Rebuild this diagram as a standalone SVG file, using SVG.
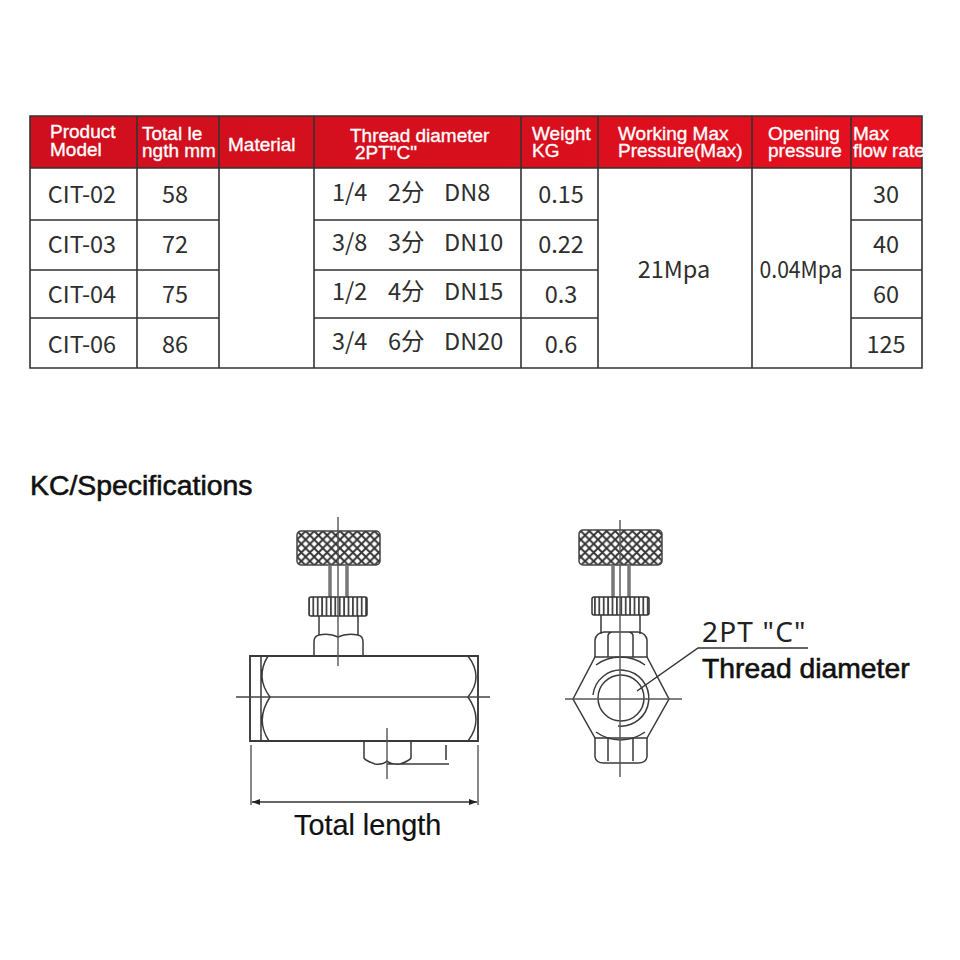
<svg xmlns="http://www.w3.org/2000/svg" width="960" height="960" viewBox="0 0 960 960">
<style>
.h{font-family:"Liberation Sans",Arial,sans-serif;font-size:19px;fill:#fff;stroke:#fff;stroke-width:.35}
.b{font-family:"Noto Sans CJK SC","Noto Sans",sans-serif;font-size:23.5px;fill:#2e2e2e}
.m{text-anchor:middle}
.g{stroke:#333;stroke-width:1.6;fill:none}
.d{stroke:#3a3a3a;stroke-width:1.5;fill:none}
.c{stroke:#555;stroke-width:1.4;fill:none}
.s{stroke:#777;stroke-width:3.5;fill:none}
.l{font-family:"Liberation Sans",Arial,sans-serif;fill:#111;stroke:#111;stroke-width:.6}
.kn{fill:url(#cross);stroke:#444;stroke-width:1.5}
.ku{fill:url(#knurl);stroke:#333;stroke-width:1.5}
</style>
<defs>
<linearGradient id="red" x1="0" y1="0" x2="1" y2="0"><stop offset="0" stop-color="#cf0f1e"/><stop offset=".55" stop-color="#d80f1d"/><stop offset="1" stop-color="#e8101f"/></linearGradient>
<pattern id="cross" width="8.6" height="8.6" patternUnits="userSpaceOnUse" x="297" y="531">
<rect width="8.6" height="8.6" fill="#fff"/><path d="M0,0L8.6,8.6M8.6,0L0,8.6" stroke="#333" stroke-width="1.9"/></pattern>
<pattern id="knurl" width="4.4" height="10" patternUnits="userSpaceOnUse"><rect width="4.4" height="10" fill="#fff"/><rect width="1.8" height="10" fill="#444"/></pattern>
<marker id="ah" viewBox="0 0 8 6" refX="8" refY="3" markerWidth="8" markerHeight="6" orient="auto-start-reverse" markerUnits="userSpaceOnUse"><path d="M0,0L8,3L0,6z" fill="#222"/></marker>
</defs>
<rect width="960" height="960" fill="#fff"/>
<g id="table">
<rect x="30" y="116" width="892" height="52" fill="url(#red)"/>
<path class="g" d="M30,116H922V368H30ZM30,168H922M30,220H219M314,220H598M851,220H922M30,270H219M314,270H598M851,270H922M30,318H219M314,318H598M851,318H922M137,116V368M219,116V368M314,116V368M521,116V368M598,116V368M752,116V368M851,116V368"/>
<g id="header">
<text class="h" x="50" y="138">Product</text><text class="h" x="50" y="156">Model</text>
<text class="h" x="142" y="140">Total le</text><text class="h" x="142" y="157">ngth mm</text>
<text class="h" x="228" y="151">Material</text>
<text class="h" x="350" y="142">Thread diameter</text><text class="h" x="355" y="159">2PT"C"</text>
<text class="h" x="532" y="140">Weight</text><text class="h" x="532" y="157">KG</text>
<text class="h" x="618" y="140">Working Max</text><text class="h" x="618" y="157">Pressure(Max)</text>
<text class="h" x="768" y="140">Opening</text><text class="h" x="768" y="157">pressure</text>
<text class="h" x="853" y="140">Max</text><text class="h" x="853" y="157">flow rate</text>
</g>
<g id="rows">
<text class="b m" x="82" y="203">CIT-02</text><text class="b m" x="82" y="253">CIT-03</text><text class="b m" x="82" y="303">CIT-04</text><text class="b m" x="82" y="353">CIT-06</text>
<text class="b m" x="175" y="203">58</text><text class="b m" x="175" y="253">72</text><text class="b m" x="175" y="303">75</text><text class="b m" x="175" y="353">86</text>
<text class="b" x="332" y="201">1/4</text><text class="b" x="388" y="201">2分</text><text class="b" x="444" y="201">DN8</text>
<text class="b" x="332" y="251">3/8</text><text class="b" x="388" y="251">3分</text><text class="b" x="444" y="251">DN10</text>
<text class="b" x="332" y="300">1/2</text><text class="b" x="388" y="300">4分</text><text class="b" x="444" y="300">DN15</text>
<text class="b" x="332" y="350">3/4</text><text class="b" x="388" y="350">6分</text><text class="b" x="444" y="350">DN20</text>
<text class="b m" x="561" y="203">0.15</text><text class="b m" x="561" y="253">0.22</text><text class="b m" x="561" y="303">0.3</text><text class="b m" x="561" y="353">0.6</text>
<text class="b m" x="674" y="278">21Mpa</text><text class="b m" x="801" y="278" textLength="83" lengthAdjust="spacingAndGlyphs">0.04Mpa</text>
<text class="b m" x="886" y="203">30</text><text class="b m" x="886" y="253">40</text><text class="b m" x="886" y="303">60</text><text class="b m" x="886" y="353">125</text>
</g>
</g>
<text class="l" x="30" y="495" font-size="28.4">KC/Specifications</text>
<g id="side-view">
<rect class="kn" x="297" y="531" width="83" height="34" rx="4"/>
<path class="s" d="M330,565V597M347,565V597"/>
<rect class="ku" x="309" y="597" width="58" height="19" rx="2"/>
<path class="d" d="M319,616V635M358,616V635M314,656V642Q314,636 319,635Q330,633 338,637Q346,633 358,635Q363,636 363,642V656"/>
<path d="M250,656H478V741H250Z" stroke="#3a3a3a" stroke-width="1.9" fill="none"/>
<path class="d" d="M261,656V741M268,656Q255,677 270,697Q255,720 269,741M468,656Q484,677 468,697Q484,720 468,741"/>
<path class="d" d="M364,741V758Q366,761 375,764Q383,765 387,761Q392,765 400,764Q409,761 411,758V741M387,764H449"/>
<path d="M446,745V760" stroke="#666" stroke-width="2" fill="none"/>
<path class="c" d="M338,517V666M387,728V779"/>
<path d="M236,697H490" stroke="#444" stroke-width="1.6" fill="none"/>
<path class="c" d="M251,745V805M478,745V805"/>
<path d="M252,802H477" stroke="#333" stroke-width="1.5" marker-start="url(#ah)" marker-end="url(#ah)" fill="none"/>
<text class="l" style="stroke-width:.2" x="294" y="835" font-size="28.8">Total length</text>
</g>
<g id="end-view">
<rect class="kn" x="579" y="530" width="83" height="35" rx="4"/>
<path class="s" d="M613,565V597M629,565V597"/>
<rect class="ku" x="592" y="597" width="57" height="18" rx="2"/>
<path class="d" d="M601,615V634M640,615V634"/>
<path class="d" d="M595,657V640Q596,633 604,632H638Q646,633 647,640V657M608,657V636Q608,633 612,632M633,657V636Q633,633 629,632"/>
<path class="d" d="M595,738V757Q596,763 604,763H638Q646,763 647,757V738M608,738V761M633,738V761"/>
<path class="d" d="M573,699L595,657H647L669,699L647,738H595Z"/>
<path class="d" d="M596,665A42,42 0 0 1 645,665M596,732A42,42 0 0 0 645,732"/>
<circle class="d" cx="621" cy="698" r="23"/>
<path class="d" d="M618,726A28,28 0 1 0 593,695"/>
<path class="c" d="M620,520V777M565,699H682"/>
<path d="M637,691L698,648H808" stroke="#333" stroke-width="1.5" fill="none"/>
<text x="702" y="642" font-family="'Noto Sans',sans-serif" font-size="28" fill="#222" letter-spacing="1.2">2PT "C"</text>
<text class="l" x="702" y="678" font-size="28.3">Thread diameter</text>
</g>
</svg>
